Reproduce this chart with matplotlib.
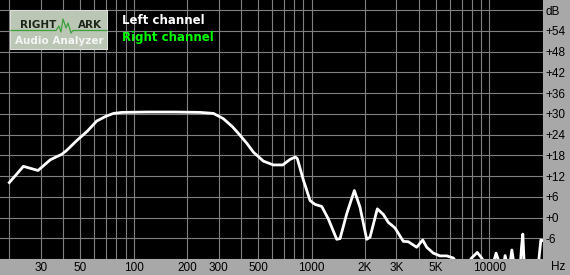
import matplotlib.pyplot as plt
from matplotlib.patches import Rectangle

# frequency response (Hz, dB)
freq = [20, 24, 29, 34, 39.5, 42, 48, 55, 62, 70, 77, 86, 120, 170, 236, 281,
        319, 360, 396, 435, 471, 536, 610, 689, 757, 811, 832, 899, 981, 1046,
        1141, 1242, 1385, 1446, 1577, 1740, 1872, 2042, 2131, 2343, 2531, 2700,
        2943, 3280, 3500, 3900, 4215, 4440, 4835, 5270, 5750, 6265, 6700, 7400,
        7945, 8535, 9040, 9600, 10400, 10900, 11500, 12000, 12250, 12600, 13000,
        13360, 13800, 14900, 15150, 15400, 15700, 18800, 19450, 20000]
left_db = [10.1, 14.8, 13.6, 16.7, 18.3, 19.4, 22.3, 25.0, 27.9, 29.3, 30.1,
           30.4, 30.5, 30.5, 30.4, 30.1, 28.6, 26.2, 23.8, 21.3, 18.9, 16.3,
           15.2, 15.2, 16.8, 17.5, 17.0, 10.9, 4.9, 3.8, 3.2, -0.4, -6.3, -6.1,
           1.1, 7.8, 3.0, -6.3, -5.7, 2.5, 0.9, -1.4, -3.0, -6.9, -7.0, -8.6,
           -6.5, -8.6, -10.3, -11.1, -11.1, -11.7, -14, -14, -11.7, -10.1,
           -11.7, -14, -14, -10.3, -14, -14, -11.0, -14, -14, -9.4, -14, -14,
           -8.5, -4.8, -14, -14, -6.5, -6.7]

xtick_pos = [30, 50, 100, 200, 300, 500, 1000, 2000, 3000, 5000, 10000]
xtick_lbl = ['30', '50', '100', '200', '300', '500', '1000', '2K', '3K', '5K', '10000']
ytick_pos = [54, 48, 42, 36, 30, 24, 18, 12, 6, 0, -6]
ytick_lbl = ['+54', '+48', '+42', '+36', '+30', '+24', '+18', '+12', '+6', '+0', '-6']

# gridlines at 20..90, 100..900, 1000..9000, 10000..20000
vgrid = [m * 10 ** e for e in range(1, 5) for m in range(1, 10)]
vgrid = [v for v in vgrid if 20 <= v <= 20000]
hgrid = list(range(-12, 61, 6))

W, H = 570, 275
fig = plt.figure(figsize=(W / 100, H / 100), dpi=100, facecolor='#a8a8a8')
ax = fig.add_axes([0, 16 / H, 543 / W, 259 / H])
ax.set_facecolor('black')
ax.set_xscale('log')
ax.set_xlim(17.73, 20000)
ax.set_ylim(-12, 62.9)

for v in vgrid:
    ax.axvline(v, color='#808080', lw=0.8, zorder=1)
for h in hgrid:
    ax.axhline(h, color='#808080', lw=0.8, zorder=1)

ax.plot(freq, left_db, color='white', lw=2.0, zorder=3, solid_joinstyle='round')

for s in ax.spines.values():
    s.set_visible(False)

ax.set_xticks(xtick_pos)
ax.set_xticklabels(xtick_lbl)
ax.xaxis.set_minor_locator(plt.NullLocator())
ax.yaxis.tick_right()
ax.set_yticks(ytick_pos + [60])
ax.set_yticklabels(ytick_lbl + ['dB'])
ax.tick_params(length=0, labelcolor='black', pad=2)
for t in ax.get_xticklabels() + ax.get_yticklabels():
    t.set_fontfamily('Liberation Sans')
    t.set_fontsize(8.5)
fig.text(551 / W, 1 - 267 / H, 'Hz', fontsize=8.5, family='Liberation Sans',
         ha='left', va='center')

# legend text
fig.text(122 / W, 1 - 21 / H, 'Left channel', color='white', fontsize=8.5,
         fontweight='bold', family='DejaVu Sans', va='center')
fig.text(122 / W, 1 - 37 / H, 'Right channel', color='#00ff00', fontsize=8.5,
         fontweight='bold', family='DejaVu Sans', va='center')

# logo box
lg = fig.add_axes([10 / W, 1 - 50 / H, 98 / W, 40 / H])
lg.set_xlim(0, 98)
lg.set_ylim(40, 0)
lg.axis('off')
lg.add_patch(Rectangle((0, 0), 98, 40, facecolor='#bcc6b4', edgecolor='#e4e4e4', lw=1.2))
lg.plot([1, 46, 49, 51, 53, 56, 58, 61, 63, 97],
        [20.5, 20.5, 16, 22, 9, 18, 13, 23, 20.5, 20.5], color='#3ca03c', lw=0.9)
lg.text(28, 15, 'RIGHT', fontsize=7.5, fontweight='bold', color='#1c261c',
        ha='center', va='center', family='DejaVu Sans')
lg.text(80, 15, 'ARK', fontsize=7.5, fontweight='bold', color='#1c261c',
        ha='center', va='center', family='DejaVu Sans')
lg.text(49, 31, 'Audio Analyzer', fontsize=7.5, fontweight='bold', color='#f4f4f4',
        ha='center', va='center', family='DejaVu Sans')

fig.savefig('out.png', dpi=100, facecolor=fig.get_facecolor())
